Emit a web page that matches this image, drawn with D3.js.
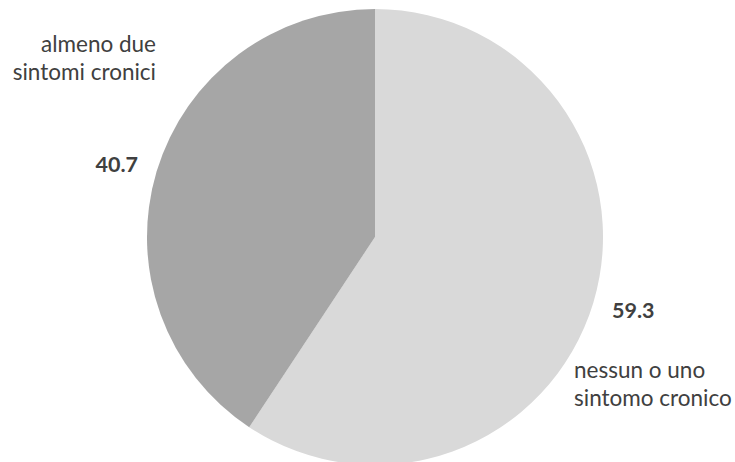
<!DOCTYPE html>
<html><head><meta charset="utf-8">
<script src="https://cdn.jsdelivr.net/npm/d3@7"></script>
<style>html,body{margin:0;padding:0;background:#fff;}svg{display:block;}</style>
</head><body>
<svg id="c" width="735" height="462"></svg>
<script>
const categories = ["nessun o uno sintomo cronico", "almeno due sintomi cronici"];
const labelLines = [["nessun o uno", "sintomo cronico"], ["almeno due", "sintomi cronici"]];
const values = [59.3, 40.7];
const colors = ["#d9d9d9", "#a6a6a6"];

const svg = d3.select("#c");
const cx = 375, cy = 237, r = 228;
const g = svg.append("g").attr("transform", `translate(${cx},${cy})`);
const pie = d3.pie().sort(null).value(d => d)(values);
const arc = d3.arc().innerRadius(0).outerRadius(r);
g.selectAll("path").data(pie).enter().append("path")
  .attr("d", arc).attr("fill", (d, i) => colors[i]);

const font = "Lato, 'Open Sans', sans-serif";
const txt = "#404040";
// value labels
const valPos = [[612, 318, "start"], [138, 172, "end"]];
values.forEach((v, i) => {
  svg.append("text").attr("x", valPos[i][0]).attr("y", valPos[i][1])
    .attr("text-anchor", valPos[i][2]).attr("font-family", font)
    .attr("font-weight", "bold").attr("font-size", 21.5).attr("fill", txt)
    .text(d3.format(".1f")(v));
});
// category labels
const catPos = [[574, 378, "start"], [156, 52, "end"]];
labelLines.forEach((lines, i) => {
  const t = svg.append("text").attr("text-anchor", catPos[i][2])
    .attr("font-family", font).attr("font-size", 22.5).attr("fill", txt);
  lines.forEach((l, j) => {
    t.append("tspan").attr("x", catPos[i][0]).attr("y", catPos[i][1] + j * 27.5).text(l);
  });
});
</script>
</body></html>
